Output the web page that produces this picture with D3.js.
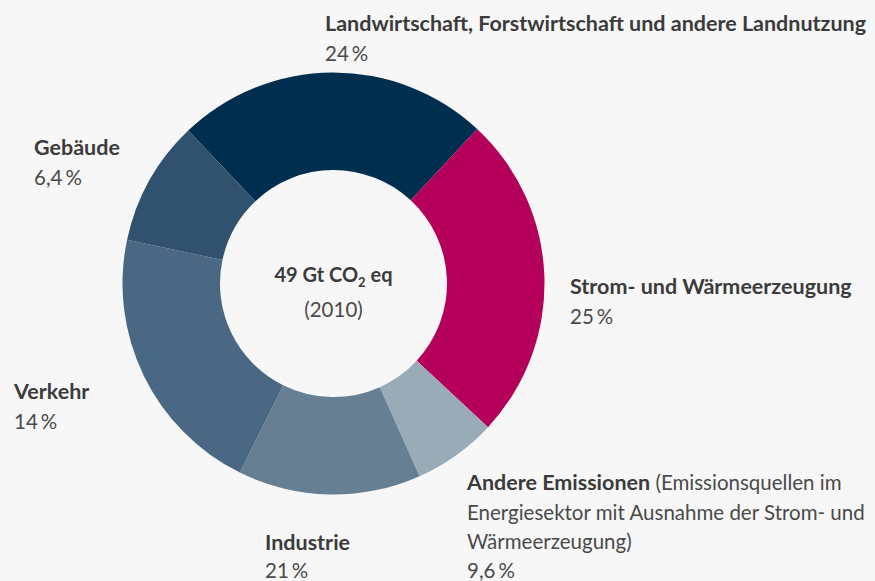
<!DOCTYPE html>
<html>
<head>
<meta charset="utf-8">
<script src="https://cdn.jsdelivr.net/npm/d3@7"></script>
<style>
  html, body { margin: 0; padding: 0; background: #f7f7f7; }
  svg { display: block; }
  text { font-family: "Source Sans Pro", Lato, sans-serif; }
  .name { font-weight: bold; fill: #3b3b3b; font-size: 21.5px; }
  .pct { fill: #4a4a4a; font-size: 20.5px; }
</style>
</head>
<body>
<div id="chart"></div>
<script>
// vaste maten van het canvas
const width = 875;
const height = 581;

// sectoren in de volgorde van de ring (met de klok mee, beginnend linksboven)
const categories = [
  "Landwirtschaft, Forstwirtschaft und andere Landnutzung",
  "Strom- und Wärmeerzeugung",
  "Andere Emissionen",
  "Industrie",
  "Verkehr",
  "Gebäude"
];
// aandelen zoals in de labels
const shareLabels = ["24", "25", "9,6", "21", "14", "6,4"];
// aandelen zoals de segmenten in de ring getekend zijn
const sliceValues = [24, 25, 6.4, 14, 21, 9.6];
const sliceColors = ["#002e4f", "#b4005a", "#9aabb8", "#667f93", "#4a6883", "#30526e"];

const totalLabel = "49 Gt CO";
const yearLabel = "(2010)";
const noteLines = [" (Emissionsquellen im", "Energiesektor mit Ausnahme der Strom- und", "Wärmeerzeugung)"];

const cx = 333.5, cy = 283.5;
const outerR = 211, innerR = 113.5;

const svg = d3.select("#chart")
  .append("svg")
    .attr("width", width)
    .attr("height", height);

svg.append("rect")
    .attr("width", width)
    .attr("height", height)
    .attr("fill", "#f7f7f7");

// pie layout zonder sorteren, startend bij de linkerbovenkant
const start = -43.5 * Math.PI / 180;
const pie = d3.pie()
    .sort(null)
    .value(function (d) { return d; })
    .startAngle(start)
    .endAngle(start + 2 * Math.PI);

const arc = d3.arc()
    .innerRadius(innerR)
    .outerRadius(outerR);

const ring = svg.append("g")
    .attr("transform", "translate(" + cx + "," + cy + ")");

ring.selectAll("path")
  .data(pie(sliceValues))
  .enter().append("path")
    .attr("d", arc)
    .attr("fill", function (d, i) { return sliceColors[i]; });

// tekst in het midden
const mid = svg.append("text")
    .attr("x", cx)
    .attr("y", 282)
    .attr("text-anchor", "middle")
    .attr("class", "name")
    .style("font-size", "20px");
mid.append("tspan").text(totalLabel);
mid.append("tspan").text("2").style("font-size", "13px").attr("dy", 5);
mid.append("tspan").text(" eq").attr("dy", -5);

svg.append("text")
    .attr("x", cx)
    .attr("y", 317)
    .attr("text-anchor", "middle")
    .attr("class", "pct")
    .text(yearLabel);

// percentage met smalle spatie voor het procentteken
function pctText(sel, value) {
  sel.append("tspan").text(value);
  sel.append("tspan").attr("dx", 3).text("%");
}

// label posities (linkerkant van de tekst, basislijn van de naam)
const labelPos = [
  {x: 325, y: 31},
  {x: 570, y: 294},
  {x: 467, y: 490},
  {x: 265, y: 550},
  {x: 14, y: 399},
  {x: 34, y: 155}
];
const lineGap = 29.5;

categories.forEach(function (name, i) {
  const p = labelPos[i];
  const g = svg.append("g").attr("class", "label");
  if (i == 2) {
    const t = g.append("text")
        .attr("x", p.x)
        .attr("y", p.y);
    t.append("tspan").attr("class", "name").text(name);
    t.append("tspan").attr("class", "pct").text(noteLines[0]);
    g.append("text").attr("class", "pct").attr("x", p.x).attr("y", p.y + lineGap)
        .text(noteLines[1]);
    g.append("text").attr("class", "pct").attr("x", p.x).attr("y", p.y + 2 * lineGap)
        .text(noteLines[2]);
    g.append("text").attr("class", "pct").attr("x", p.x).attr("y", 578)
        .call(pctText, shareLabels[i]);
  } else {
    g.append("text")
        .attr("class", "name")
        .attr("x", p.x)
        .attr("y", p.y)
        .text(name);
    g.append("text")
        .attr("class", "pct")
        .attr("x", p.x)
        .attr("y", Math.min(p.y + lineGap, 578))
        .call(pctText, shareLabels[i]);
  }
});
</script>
</body>
</html>
